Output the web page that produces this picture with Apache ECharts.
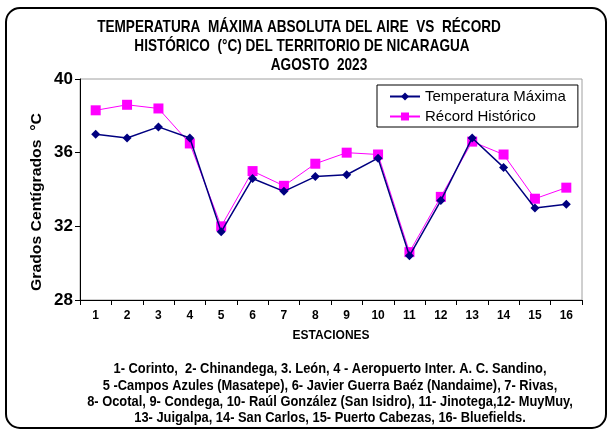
<!DOCTYPE html>
<html>
<head>
<meta charset="utf-8">
<script src="https://cdn.jsdelivr.net/npm/echarts@6/dist/echarts.min.js"></script>
<style>
html,body{margin:0;padding:0;background:#fff;}
#chart{width:610px;height:430px;}
</style>
</head>
<body>
<div id="chart"></div>
<script>
var categories = ['1','2','3','4','5','6','7','8','9','10','11','12','13','14','15','16'];
var temperaturaMaxima = [37.0, 36.8, 37.4, 36.8, 31.7, 34.6, 33.9, 34.7, 34.8, 35.7, 30.4, 33.4, 36.8, 35.2, 33.0, 33.2];
var recordHistorico = [38.3, 38.6, 38.4, 36.5, 32.0, 35.0, 34.2, 35.4, 36.0, 35.9, 30.6, 33.6, 36.6, 35.9, 33.5, 34.1];
var seriesNames = ['Temperatura Máxima', 'Récord Histórico'];
var titleLines = ['TEMPERATURA  MÁXIMA ABSOLUTA DEL AIRE  VS  RÉCORD', 'HISTÓRICO  (°C) DEL TERRITORIO DE NICARAGUA', 'AGOSTO  2023'];
var footLines = [
  '1- Corinto,  2- Chinandega, 3. León, 4 - Aeropuerto Inter. A. C. Sandino,',
  '5 -Campos Azules (Masatepe), 6- Javier Guerra Baéz (Nandaime), 7- Rivas,',
  '8- Ocotal, 9- Condega, 10- Raúl González (San Isidro), 11- Jinotega,12- MuyMuy,',
  '13- Juigalpa, 14- San Carlos, 15- Puerto Cabezas, 16- Bluefields.'
];
var yName = 'Grados Centígrados  °C';
var xName = 'ESTACIONES';

var ARIAL = '"Liberation Sans", Arial, sans-serif';

var chart = echarts.init(document.getElementById('chart'), null, {renderer: 'canvas'});

var graphics = [
  {type: 'rect', shape: {x: 6, y: 8, width: 600, height: 420, r: 14}, style: {fill: 'none', stroke: '#000', lineWidth: 2}, z: 100},
  {type: 'text', x: 299, y: 27, scaleX: 0.8, style: {text: titleLines[0], font: 'bold 17px ' + ARIAL, fill: '#000', textAlign: 'center', textVerticalAlign: 'middle'}},
  {type: 'text', x: 302, y: 46, scaleX: 0.8, style: {text: titleLines[1], font: 'bold 17px ' + ARIAL, fill: '#000', textAlign: 'center', textVerticalAlign: 'middle'}},
  {type: 'text', x: 319, y: 65, scaleX: 0.8, style: {text: titleLines[2], font: 'bold 17px ' + ARIAL, fill: '#000', textAlign: 'center', textVerticalAlign: 'middle'}},
  {type: 'text', x: 37, y: 202, rotation: Math.PI / 2, scaleX: 1.05, style: {text: yName, font: 'bold 15px ' + ARIAL, fill: '#000', textAlign: 'center', textVerticalAlign: 'middle'}}
];
var footY = [369, 386, 402, 418];
for (var i = 0; i < footLines.length; i++) {
  graphics.push({type: 'text', x: 330, y: footY[i], scaleX: 0.92, style: {text: footLines[i], font: 'bold 14px ' + ARIAL, fill: '#000', textAlign: 'center', textVerticalAlign: 'middle'}});
}

chart.setOption({
  animation: false,
  backgroundColor: '#fff',
  graphic: graphics,
  grid: {left: 80, right: 28, top: 79, bottom: 130, show: true, borderColor: '#a0a0a0', borderWidth: 1, backgroundColor: 'transparent'},
  legend: {
    left: 377, top: 85, orient: 'vertical',
    backgroundColor: '#fff', borderColor: '#000', borderWidth: 1,
    padding: [4, 12, 3, 12], itemGap: 5, itemWidth: 30, itemHeight: 10,
    textStyle: {fontFamily: ARIAL, fontSize: 15, color: '#000'},
    data: seriesNames
  },
  xAxis: {
    type: 'category', data: categories, boundaryGap: true,
    name: xName, nameLocation: 'middle', nameGap: 30,
    nameTextStyle: {fontFamily: ARIAL, fontWeight: 'bold', fontSize: 12, color: '#000'},
    axisLine: {lineStyle: {color: '#000', width: 1}},
    axisTick: {show: true, alignWithLabel: false, length: 5, lineStyle: {color: '#000'}},
    axisLabel: {fontFamily: ARIAL, fontWeight: 'bold', fontSize: 12, color: '#000', margin: 10},
    splitLine: {show: false}
  },
  yAxis: {
    type: 'value', min: 28, max: 40, interval: 4,
    axisLine: {show: true, lineStyle: {color: '#000', width: 1}},
    axisTick: {show: true, length: 5, lineStyle: {color: '#000'}},
    axisLabel: {fontFamily: ARIAL, fontWeight: 'bold', fontSize: 17, color: '#000', margin: 7},
    splitLine: {show: false}
  },
  series: [
    {
      name: seriesNames[0], type: 'line', data: temperaturaMaxima,
      symbol: 'diamond', symbolSize: 9,
      lineStyle: {color: '#000080', width: 1.5},
      itemStyle: {color: '#000080'},
      z: 3
    },
    {
      name: seriesNames[1], type: 'line', data: recordHistorico,
      symbol: 'rect', symbolSize: 10,
      lineStyle: {color: '#ff00ff', width: 1},
      itemStyle: {color: '#ff00ff'},
      z: 2
    }
  ]
});
</script>
</body>
</html>
